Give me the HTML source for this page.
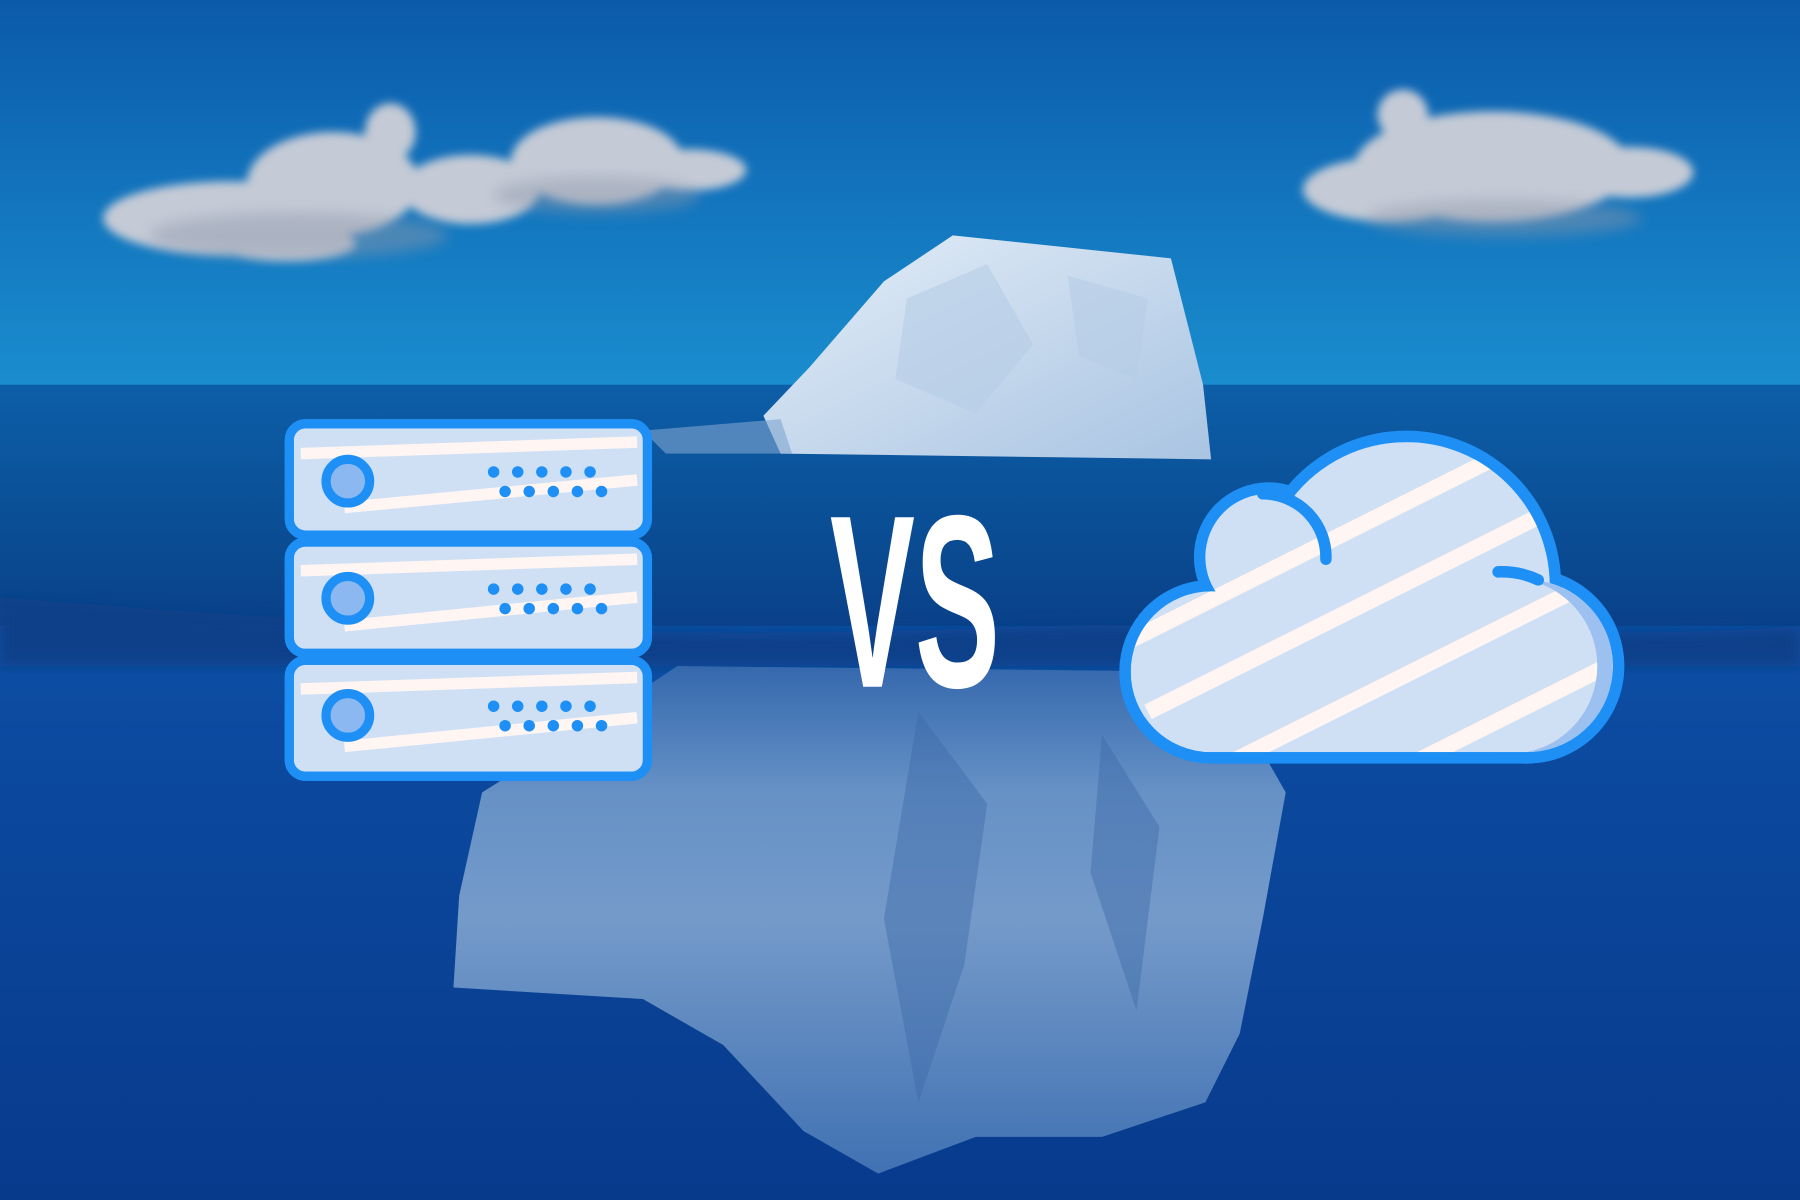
<!DOCTYPE html>
<html><head><meta charset="utf-8"><style>
html,body{margin:0;padding:0;width:1800px;height:1200px;overflow:hidden;background:#0a4a9c}
svg{display:block}
</style></head><body>
<svg width="1800" height="1200" viewBox="0 0 1568 1045" preserveAspectRatio="none" xmlns="http://www.w3.org/2000/svg">
<defs>
<linearGradient id="sky" x1="0" y1="0" x2="0" y2="1">
<stop offset="0" stop-color="#0b5aaa"/><stop offset="1" stop-color="#1a8ecf"/></linearGradient>
<linearGradient id="sea" x1="0" y1="0" x2="0" y2="1">
<stop offset="0" stop-color="#0d5ea8"/><stop offset="0.5" stop-color="#0a4f96"/><stop offset="1" stop-color="#0a3e86"/></linearGradient>
<linearGradient id="deep" x1="0" y1="0" x2="0" y2="1">
<stop offset="0" stop-color="#0c4ea4"/><stop offset="1" stop-color="#083a8c"/></linearGradient>
<linearGradient id="ice" x1="0" y1="0" x2="1" y2="1">
<stop offset="0" stop-color="#e4eef8"/><stop offset="1" stop-color="#a9c4e2"/></linearGradient>
<linearGradient id="iceu" x1="0" y1="0" x2="0" y2="1">
<stop offset="0" stop-color="#3f6fb0"/><stop offset="0.25" stop-color="#7da4d0"/><stop offset="0.5" stop-color="#8fb0d6"/><stop offset="1" stop-color="#4f7fbc"/></linearGradient>
<filter id="blur"><feGaussianBlur stdDeviation="6"/></filter>
<filter id="blur2"><feGaussianBlur stdDeviation="4"/></filter>
<clipPath id="cc">
<circle cx="1055" cy="585" r="70"/><circle cx="1105" cy="485" r="55"/><circle cx="1225" cy="510" r="125"/><circle cx="1330" cy="580" r="75"/><rect x="1055" y="520" width="280" height="135"/>
</clipPath>
</defs>
<rect x="0" y="0" width="1568" height="340" fill="url(#sky)"/>
<rect x="0" y="335" width="1568" height="230" fill="url(#sea)"/>
<rect x="0" y="545" width="1568" height="500" fill="url(#deep)"/>
<path d="M0,520 C300,545 600,560 900,545 C1200,540 1400,560 1568,545 L1568,580 L0,580 Z" fill="#0a3f88" filter="url(#blur)"/>
<!-- clouds -->
<g fill="#c4cad6" filter="url(#blur2)">
<ellipse cx="200" cy="190" rx="110" ry="32"/><ellipse cx="290" cy="160" rx="75" ry="45"/><ellipse cx="340" cy="115" rx="22" ry="25"/>
<ellipse cx="410" cy="165" rx="60" ry="30"/><ellipse cx="520" cy="140" rx="75" ry="38"/><ellipse cx="600" cy="148" rx="50" ry="18"/>
<ellipse cx="250" cy="212" rx="60" ry="15"/>
<ellipse cx="1300" cy="145" rx="120" ry="48"/><ellipse cx="1210" cy="165" rx="75" ry="28"/><ellipse cx="1420" cy="150" rx="55" ry="22"/><ellipse cx="1222" cy="100" rx="22" ry="22"/>
</g>
<g fill="#8f98aa" opacity="0.45" filter="url(#blur)">
<ellipse cx="260" cy="205" rx="130" ry="20"/><ellipse cx="520" cy="170" rx="90" ry="16"/><ellipse cx="1310" cy="190" rx="120" ry="16"/>
</g>
<!-- iceberg top -->
<path d="M665,362 L705,320 L770,245 L830,205 L1020,225 L1048,335 L1055,400 L680,395 Z" fill="url(#ice)"/>
<path d="M790,260 L860,230 L900,300 L850,360 L780,330 Z M930,240 L1000,260 L990,330 L940,310 Z" fill="#b6cde6" opacity="0.6"/>
<path d="M560,375 L680,365 L690,395 L580,395 Z" fill="#7ea5cf" opacity="0.6"/>
<!-- iceberg underwater -->
<path d="M590,580 L1060,585 L1120,690 L1100,800 L1080,900 L1050,960 L960,990 L850,990 L765,1022 L700,985 L630,910 L560,870 L395,860 L400,780 L420,690 L500,640 Z" fill="url(#iceu)" opacity="0.8"/>
<path d="M800,620 L860,700 L840,840 L800,960 L770,800 Z M960,640 L1010,720 L990,880 L950,760 Z" fill="#3f6aa8" opacity="0.45"/>
<!-- server -->
<g stroke="#1e8ff5" stroke-width="8">
<rect x="252" y="369" width="312" height="97" rx="14" fill="#cfe0f5"/>
<rect x="252" y="472" width="312" height="97" rx="14" fill="#cfe0f5"/>
<rect x="252" y="575" width="312" height="101" rx="14" fill="#cfe0f5"/>
</g>
<g stroke="#fff5f2" stroke-width="10">
<line x1="262" y1="395" x2="555" y2="385"/><line x1="300" y1="442" x2="555" y2="418"/>
<line x1="262" y1="497" x2="555" y2="487"/><line x1="300" y1="545" x2="555" y2="520"/>
<line x1="262" y1="600" x2="555" y2="590"/><line x1="300" y1="650" x2="555" y2="625"/>
</g>
<g stroke="#1e8ff5" fill="none">
<rect x="252" y="369" width="312" height="97" rx="14" stroke-width="8"/>
<rect x="252" y="472" width="312" height="97" rx="14" stroke-width="8"/>
<rect x="252" y="575" width="312" height="101" rx="14" stroke-width="8"/>
</g>
<g fill="#8cb8f2" stroke="#1e8ff5" stroke-width="8">
<circle cx="303" cy="419" r="19"/><circle cx="303" cy="521" r="19"/><circle cx="303" cy="623" r="19"/>
</g>
<g fill="#1e8ff5">
<circle cx="430" cy="411" r="5"/><circle cx="451" cy="411" r="5"/><circle cx="472" cy="411" r="5"/><circle cx="493" cy="411" r="5"/><circle cx="514" cy="411" r="5"/>
<circle cx="440" cy="428" r="5"/><circle cx="461" cy="428" r="5"/><circle cx="482" cy="428" r="5"/><circle cx="503" cy="428" r="5"/><circle cx="524" cy="428" r="5"/>
<circle cx="430" cy="513" r="5"/><circle cx="451" cy="513" r="5"/><circle cx="472" cy="513" r="5"/><circle cx="493" cy="513" r="5"/><circle cx="514" cy="513" r="5"/>
<circle cx="440" cy="530" r="5"/><circle cx="461" cy="530" r="5"/><circle cx="482" cy="530" r="5"/><circle cx="503" cy="530" r="5"/><circle cx="524" cy="530" r="5"/>
<circle cx="430" cy="615" r="5"/><circle cx="451" cy="615" r="5"/><circle cx="472" cy="615" r="5"/><circle cx="493" cy="615" r="5"/><circle cx="514" cy="615" r="5"/>
<circle cx="440" cy="632" r="5"/><circle cx="461" cy="632" r="5"/><circle cx="482" cy="632" r="5"/><circle cx="503" cy="632" r="5"/><circle cx="524" cy="632" r="5"/>
</g>
<!-- VS -->
<text x="797" y="598" text-anchor="middle" fill="#ffffff" font-family="'Liberation Sans',sans-serif" font-weight="bold" font-size="150" transform="translate(797,598) scale(0.74,1.43) translate(-797,-598)">VS</text>
<!-- cloud icon -->
<g fill="#1e8ff5">
<circle cx="1055" cy="585" r="80"/><circle cx="1105" cy="485" r="65"/><circle cx="1225" cy="510" r="135"/><circle cx="1330" cy="580" r="85"/><rect x="1055" y="510" width="280" height="155"/>
</g>
<g fill="#cfe0f5" clip-path="url(#cc)">
<rect x="980" y="360" width="440" height="310"/>
<g stroke="#fff5f2" stroke-width="14">
<line x1="980" y1="560" x2="1300" y2="400"/><line x1="1000" y1="620" x2="1400" y2="420"/><line x1="1040" y1="680" x2="1420" y2="490"/><line x1="1180" y1="690" x2="1420" y2="570"/>
</g>
<path d="M1330,505 A75,75 0 0 1 1330,655 L1300,655 A75,75 0 0 0 1330,505 Z" fill="#9cc0f0"/>
</g>
<g fill="none" stroke="#1e8ff5" stroke-width="10" stroke-linecap="round">
<path d="M1100,430 A55,55 0 0 1 1155,487"/>
<path d="M1305,498 A75,75 0 0 1 1340,505"/>
</g>
</svg>
</body></html>
